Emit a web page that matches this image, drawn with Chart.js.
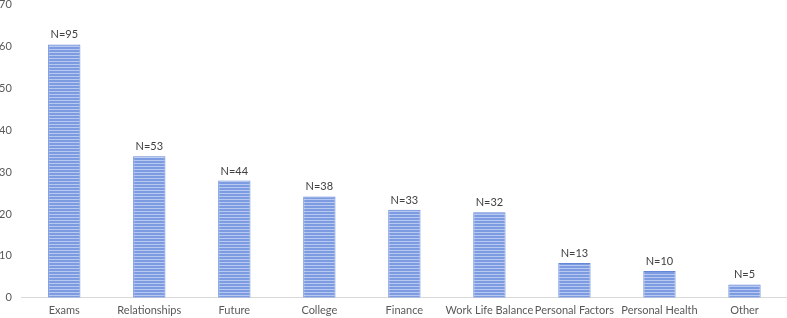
<!DOCTYPE html>
<html>
<head>
<meta charset="utf-8">
<script src="https://cdn.jsdelivr.net/npm/chart.js@4.4.1/dist/chart.umd.min.js"></script>
<style>
  html, body { margin: 0; padding: 0; background: #fff; overflow: hidden; }
  #wrap { position: absolute; left: -7px; top: -4px; width: 794px; height: 327px; }
</style>
</head>
<body>
<div id="wrap"><canvas id="chart"></canvas></div>
<script>
// categories and values
const categories = ['Exams', 'Relationships', 'Future', 'College', 'Finance', 'Work Life Balance', 'Personal Factors', 'Personal Health', 'Other'];
const percents = [60.5, 33.8, 28.0, 24.2, 21.0, 20.4, 8.3, 6.4, 3.2];
const counts = [95, 53, 44, 38, 33, 32, 13, 10, 5];
const yTicks = [0, 10, 20, 30, 40, 50, 60, 70];

// striped fill like the original bars
function stripes() {
    const c = document.createElement('canvas');
    c.width = 4; c.height = 3;
    const g = c.getContext('2d');
    g.fillStyle = '#7d9be0';
    g.fillRect(0, 0, 4, 3);
    g.fillStyle = '#b7c9f1';
    g.fillRect(0, 2, 4, 1);
    return g.createPattern(c, 'repeat');
}

const countLabels = {
    id: 'countLabels',
    afterDatasetsDraw(chart) {
        const ctx = chart.ctx;
        const meta = chart.getDatasetMeta(0);
        ctx.save();
        ctx.font = '11px Lato, "Open Sans", sans-serif';
        ctx.fillStyle = '#404040';
        ctx.textAlign = 'center';
        ctx.textBaseline = 'bottom';
        meta.data.forEach(function (bar, i) {
            ctx.fillText('N=' + counts[i], bar.x, bar.y - 4);
        });
        ctx.restore();
    }
};

new Chart(document.getElementById('chart'), {
    type: 'bar',
    data: {
        labels: categories,
        datasets: [{
            data: percents,
            backgroundColor: stripes(),
            borderColor: '#6487d8',
            borderWidth: { left: 1, right: 1, top: 1, bottom: 0 },
            categoryPercentage: 1,
            barPercentage: 0.38
        }]
    },
    options: {
        responsive: true, maintainAspectRatio: false, animation: false,
        layout: { padding: { left: 4, top: 6, right: 0, bottom: 0 } },
        plugins: { legend: { display: false }, tooltip: { enabled: false } },
        scales: {
            x: {
                grid: { display: false, drawTicks: false },
                border: { color: '#d9d9d9', width: 1 },
                ticks: { color: '#595959', font: { family: 'Lato, "Open Sans", sans-serif', size: 11 }, padding: 6, maxRotation: 0, autoSkip: false }
            },
            y: {
                min: 0, max: 70,
                afterBuildTicks(axis) { axis.ticks = yTicks.map(v => ({ value: v })); },
                grid: { display: false },
                border: { display: false },
                ticks: { color: '#595959', font: { family: 'Lato, "Open Sans", sans-serif', size: 11 }, padding: 2 }
            }
        }
    },
    plugins: [countLabels]
});
</script>
</body>
</html>
